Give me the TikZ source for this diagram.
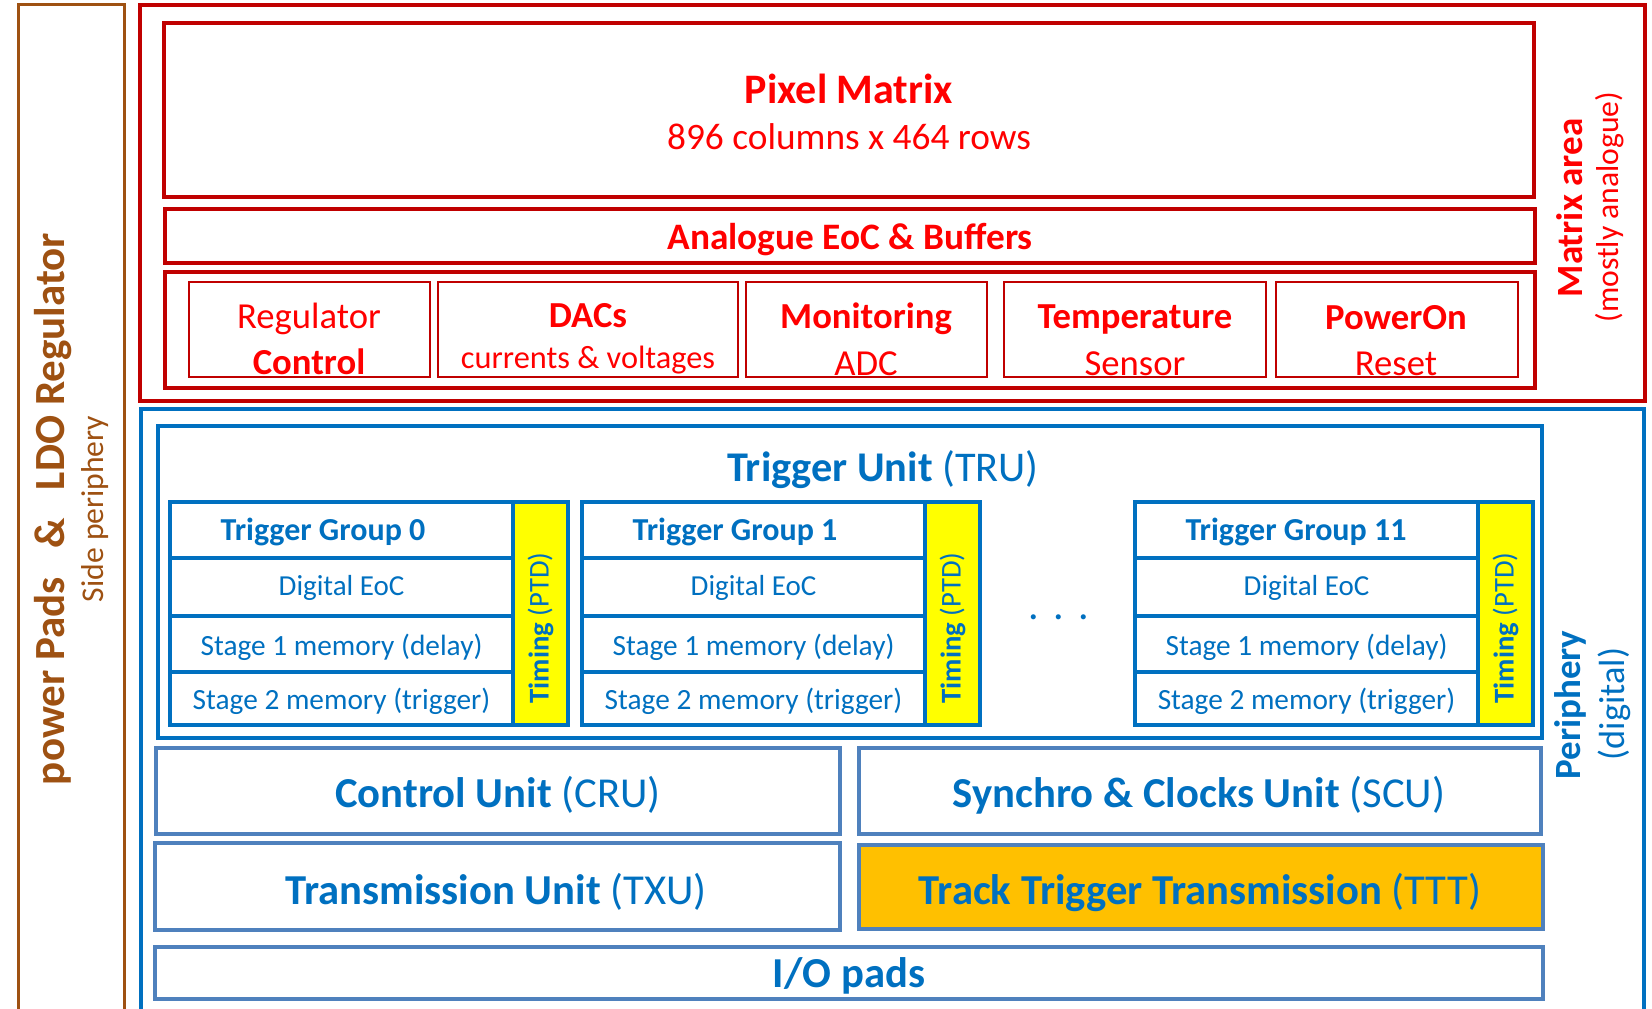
\documentclass[tikz,border=0pt]{standalone}
\usepackage{fontspec}
\setmainfont{Carlito}
\usepackage{xcolor}
\usepackage{tikz}
\definecolor{matred}{HTML}{C00000}
\definecolor{txtred}{HTML}{FF0000}
\definecolor{perblue}{HTML}{0070C0}
\definecolor{unitblue}{HTML}{4F81BD}
\definecolor{padbrown}{HTML}{9E5112}
\definecolor{ptdyellow}{HTML}{FFFF00}
\definecolor{tttorange}{HTML}{FFC000}
\newcommand{\fsz}[1]{\fontsize{#1pt}{#1pt}\selectfont}

\begin{document}
\begin{tikzpicture}[x=0.3pt, y=-0.3pt,
  redline/.style={draw=matred, line width=1pt},
  redthick/.style={draw=matred, line width=1.3pt},
  redthin/.style={draw=matred, line width=0.6pt},
  blueline/.style={draw=perblue, line width=1pt},
  unitline/.style={draw=unitblue, line width=1pt},
  padline/.style={draw=padbrown, line width=0.9pt},
  redtxt/.style={text=txtred, inner sep=0pt},
  bluetxt/.style={text=perblue, inner sep=0pt},
  padtxt/.style={text=padbrown, inner sep=0pt, rotate=90}]

\useasboundingbox (0,0) rectangle (1652,1009);

% side periphery
\draw[padline] (18,1015) -- (18,5) -- (124,5) -- (124,1015);
\node[padtxt] (pads) at (53,509) {\fsz{12.9}\bfseries power Pads\hspace{8.5pt}\&\hspace{8.5pt}LDO Regulator};
\node[padtxt] (side) at (95,509) {\fsz{9.5}Side periphery};

% matrix area (analogue)
\draw[redline] (140,5) rectangle (1645,401);
\draw[redthick] (164,23) rectangle (1534,197);
\node[redtxt] (pm) at (849,89) {\fsz{12.6}\bfseries Pixel Matrix};
\node[redtxt] (pmsize) at (849,137) {\fsz{11.2}896 columns x 464 rows};
\draw[redthick] (165,209) rectangle (1535,263);
\node[redtxt] (aeoc) at (850,240) {\fsz{11.2}\bfseries Analogue EoC \& Buffers};
\draw[redthick] (165,272) rectangle (1535,388);

\draw[redthin] (189,282) rectangle (430,377);
\node[redtxt] (reg) at (309,319) {\fsz{11}Regulator};
\node[redtxt] (regctl) at (309,362) {\fsz{11}\bfseries Control};
\draw[redthin] (438,282) rectangle (738,377);
\node[redtxt] (dacs) at (588,316) {\fsz{11}\bfseries DACs};
\node[redtxt] (dacsub) at (588,360) {\fsz{9.7}currents \& voltages};
\draw[redthin] (746,282) rectangle (987,377);
\node[redtxt] (mon) at (866,319) {\fsz{11}\bfseries Monitoring};
\node[redtxt] (monadc) at (866,364) {\fsz{11}ADC};
\draw[redthin] (1004,282) rectangle (1266,377);
\node[redtxt] (temp) at (1135,319) {\fsz{11}\bfseries Temperature};
\node[redtxt] (tempsens) at (1135,364) {\fsz{11}Sensor};
\draw[redthin] (1276,282) rectangle (1518,377);
\node[redtxt] (por) at (1396,318) {\fsz{11}\bfseries PowerOn};
\node[redtxt] (porrst) at (1396,364) {\fsz{11}Reset};

\node[redtxt, rotate=90] (matarea) at (1570,208) {\fsz{11.1}\bfseries Matrix area};
\node[redtxt, rotate=90] (matsub) at (1610,207) {\fsz{9.5}(mostly analogue)};

% periphery (digital)
\draw[blueline] (141,1015) -- (141,409) -- (1644,409) -- (1644,1015);
\draw[blueline] (158,426) rectangle (1542,738);
\node[bluetxt] (tru) at (883,470) {\fsz{12.7}\textbf{Trigger Unit} (TRU)};

\foreach \gx/\gn/\tx in {170/0/153, 582/1/153, 1135/11/161} {
  \fill[ptdyellow] (\gx+343,502) rectangle (\gx+398,725);
  \draw[blueline] (\gx,502) rectangle (\gx+398,725);
  \draw[blueline] (\gx+343,502) -- (\gx+343,725);
  \draw[blueline] (\gx,558) -- (\gx+343,558);
  \draw[blueline] (\gx,616) -- (\gx+343,616);
  \draw[blueline] (\gx,672) -- (\gx+343,672);
  \node[bluetxt] (tg\gn) at (\gx+\tx,532) {\fsz{9.6}\bfseries Trigger Group \gn};
  \node[bluetxt] (tg\gn-eoc) at (\gx+171.5,588) {\fsz{8.7}Digital EoC};
  \node[bluetxt] (tg\gn-st1) at (\gx+171.5,647) {\fsz{8.8}Stage 1 memory (delay)};
  \node[bluetxt] (tg\gn-st2) at (\gx+171.5,701) {\fsz{8.8}Stage 2 memory (trigger)};
  \node[bluetxt, rotate=90] (tg\gn-ptd) at (\gx+370.5,628) {\fsz{8.6}\textbf{Timing} (PTD)};
}
\node[bluetxt, anchor=base] (dots) at (1059,619) {\fsz{12.6}.\hspace{4.3pt}.\hspace{4.3pt}.};

\draw[unitline] (156,748) rectangle (840,834);
\node[bluetxt] (cru) at (498,795) {\fsz{12.8}\textbf{Control Unit} (CRU)};
\draw[unitline] (859,748) rectangle (1541,834);
\node[bluetxt] (scu) at (1199,795) {\fsz{12.8}\textbf{Synchro \& Clocks Unit} (SCU)};
\draw[unitline] (155,843) rectangle (840,930);
\node[bluetxt] (txu) at (496,892) {\fsz{12.8}\textbf{Transmission Unit} (TXU)};
\draw[unitline, fill=tttorange] (859,845) rectangle (1543,929);
\node[bluetxt] (ttt) at (1200,892) {\fsz{12.8}\textbf{Track Trigger Transmission} (TTT)};
\draw[unitline] (155,947) rectangle (1543,999);
\node[bluetxt] (io) at (849,976) {\fsz{12.8}\bfseries I/O pads};

\node[bluetxt, rotate=90] (per) at (1570,705) {\fsz{11.1}\bfseries Periphery};
\node[bluetxt, rotate=90] (persub) at (1614,704) {\fsz{10.9}(digital)};

\end{tikzpicture}
\end{document}
